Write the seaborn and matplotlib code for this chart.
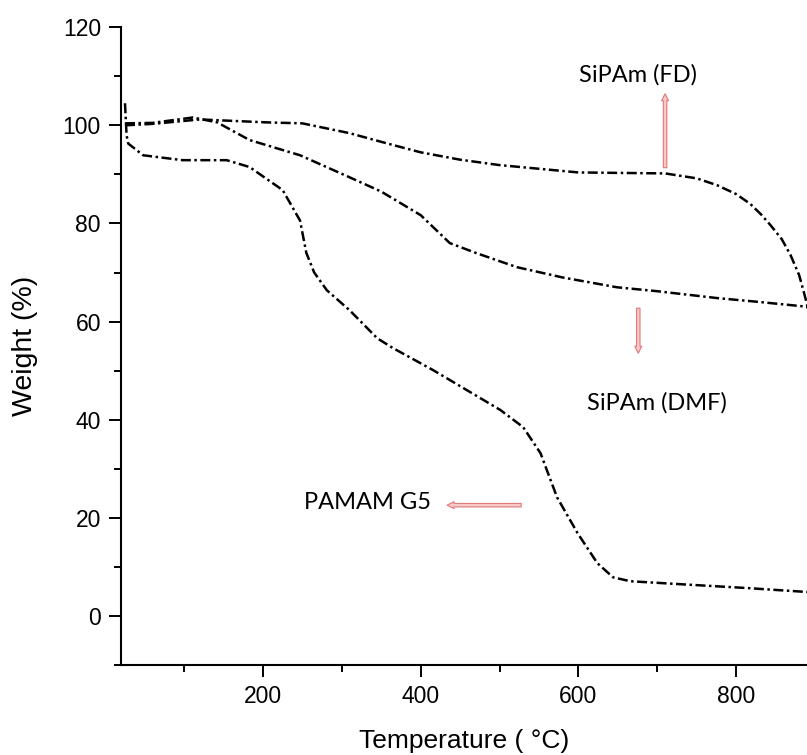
import pandas as pd
import matplotlib
matplotlib.use("Agg")
import matplotlib.pyplot as plt
from matplotlib.ticker import MultipleLocator
import seaborn as sns

# TGA curves (temperature in C, weight in %)
temp_fd = [25, 60, 120, 205, 250, 310, 360, 400, 450, 500, 600, 710, 750, 776, 800, 818, 832, 844, 858, 869, 880, 886, 891]
weight_fd = [100, 100.3, 101.2, 100.6, 100.4, 98.4, 96.2, 94.5, 93.0, 91.9, 90.4, 90.2, 89.2, 87.8, 86.0, 84.0, 81.8,
             79.6, 76.8, 73.6, 69.5, 66.0, 62.9]

temp_dmf = [25, 60, 111, 142, 183, 247, 310, 350, 400, 437, 470, 522, 580, 649, 700, 776, 830, 886, 891]
weight_dmf = [100.4, 100.5, 101.6, 100.6, 97.0, 93.9, 89.4, 86.5, 81.7, 76.0, 74.0, 71.1, 69.0, 67.0, 66.2, 64.8,
              64.0, 63.1, 62.9]

temp_pamam = [25, 27, 29, 48, 98, 154, 183, 225, 247, 255, 265, 281, 310, 345, 365, 416, 459, 501, 530, 552,
              573, 599, 624, 644, 666, 729, 815, 891]
weight_pamam = [104.5, 98.0, 96.3, 93.9, 92.9, 92.9, 91.5, 86.8, 80.6, 74.0, 70.0, 66.4, 62.3, 56.6, 54.6, 50.1,
                46.0, 42.0, 38.5, 33.2, 24.2, 16.9, 10.8, 7.9, 7.1, 6.5, 5.7, 4.9]

sns.set_style("ticks")
plt.rcParams["font.family"] = ["Liberation Sans", "DejaVu Sans"]
plt.rcParams["text.color"] = "black"
plt.rcParams["axes.labelcolor"] = "black"
plt.rcParams["xtick.color"] = "black"
plt.rcParams["ytick.color"] = "black"
plt.rcParams["axes.edgecolor"] = "black"

fig = plt.figure(figsize=(8.07, 7.55), dpi=100)
ax = fig.add_axes([0.15, 0.119, 0.85, 0.845])

dash = (4, 1.4, 1, 1.4)
for t, w in [(temp_fd, weight_fd), (temp_dmf, weight_dmf), (temp_pamam, weight_pamam)]:
    df = pd.DataFrame({"Temperature": t, "Weight": w})
    sns.lineplot(data=df, x="Temperature", y="Weight", ax=ax, color="black",
                 linewidth=1.8, estimator=None, sort=False, dashes=False)
    ax.lines[-1].set_dashes(dash)

ax.set_xlim(20, 890)
ax.set_ylim(-10, 120)
ax.xaxis.set_major_locator(MultipleLocator(200))
ax.xaxis.set_minor_locator(MultipleLocator(100))
ax.yaxis.set_major_locator(MultipleLocator(20))
ax.yaxis.set_minor_locator(MultipleLocator(10))
ax.tick_params(which="major", length=8.5, width=1.4, labelsize=16.5, direction="out", pad=6)
ax.tick_params(which="minor", length=5, width=1.4, direction="out")
sns.despine(ax=ax)
for s in ["left", "bottom"]:
    ax.spines[s].set_linewidth(1.5)

ax.set_xlabel("Temperature ( \u00b0C)", fontsize=19, labelpad=15)
ax.set_ylabel("Weight (%)", fontsize=20.5, labelpad=18)

# labels with pink arrows
arrow = dict(arrowstyle="simple,head_width=0.5,head_length=0.5,tail_width=0.25",
             fc="#f9c9c9", ec="#e07878", lw=0.8)
lab = dict(fontsize=17, family=["Lato", "DejaVu Sans"], ha="center", va="center")
ax.text(676, 110.2, "SiPAm (FD)", **lab)
ax.annotate("", xy=(710, 107), xytext=(710, 90.8), arrowprops=arrow)
ax.text(700, 43.5, "SiPAm (DMF)", **lab)
ax.annotate("", xy=(676, 53), xytext=(676, 63.3), arrowprops=arrow)
ax.text(333, 23.2, "PAMAM G5", **lab)
ax.annotate("", xy=(430, 22.6), xytext=(531, 22.6), arrowprops=arrow)

plt.savefig("out.png", dpi=100)
